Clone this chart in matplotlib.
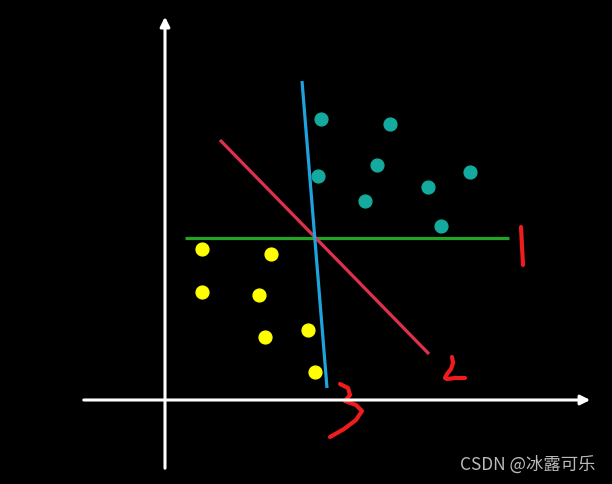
import matplotlib.pyplot as plt

# pixel-space coordinates of the sketch (origin top-left)
teal_x = [321, 390, 377, 318, 428, 470, 365, 441]
teal_y = [119, 124, 165, 176, 187, 172, 201, 226]
yellow_x = [202, 271, 202, 259, 265, 308, 315]
yellow_y = [249, 254, 292, 295, 337, 330, 372]

line1_x = [185, 509]
line1_y = [238, 238]
line2_x = [220, 429]
line2_y = [140, 354]
line3_x = [302, 327]
line3_y = [81, 388]

mark1_x = [521, 522, 523]
mark1_y = [227, 246, 265]
mark2_x = [452, 453, 451, 447, 445, 447, 455, 465]
mark2_y = [357, 363, 369, 374, 378, 379, 378, 378]
mark3_x = [340, 348, 350, 345, 356, 362, 356, 344, 330]
mark3_y = [384, 388, 395, 401, 405, 411, 420, 429, 437]

fig = plt.figure(figsize=(6.12, 4.84), dpi=100, facecolor='black')
ax = fig.add_axes([0, 0, 1, 1])
ax.set_facecolor('black')
ax.set_xlim(0, 612)
ax.set_ylim(484, 0)
ax.axis('off')

# axes arrows
ax.annotate('', xy=(593, 400), xytext=(81, 400),
            arrowprops=dict(arrowstyle='-|>', color='white', lw=2.2, mutation_scale=14))
ax.annotate('', xy=(165, 14), xytext=(165, 471),
            arrowprops=dict(arrowstyle='-|>', color='white', lw=2.2, mutation_scale=14))

ax.plot(line1_x, line1_y, color='#23a523', lw=2.3, solid_capstyle='butt')
ax.plot(line2_x, line2_y, color='#e0304e', lw=2.3, solid_capstyle='butt')
ax.plot(line3_x, line3_y, color='#1ea3dc', lw=2.3, solid_capstyle='butt')

ax.scatter(teal_x, teal_y, s=85, color='#14aa9e', zorder=3)
ax.scatter(yellow_x, yellow_y, s=85, color='#ffff00', zorder=3)

for mx, my in [(mark1_x, mark1_y), (mark2_x, mark2_y), (mark3_x, mark3_y)]:
    ax.plot(mx, my, color='#ee1c1c', lw=3, solid_capstyle='round', solid_joinstyle='round')

ax.text(596, 465, 'CSDN @冰露可乐', color='#bbbbbb', fontsize=12.5, ha='right', va='center',
        family=['Noto Sans CJK SC', 'DejaVu Sans'])

fig.savefig('out.png', dpi=100, facecolor='black')
